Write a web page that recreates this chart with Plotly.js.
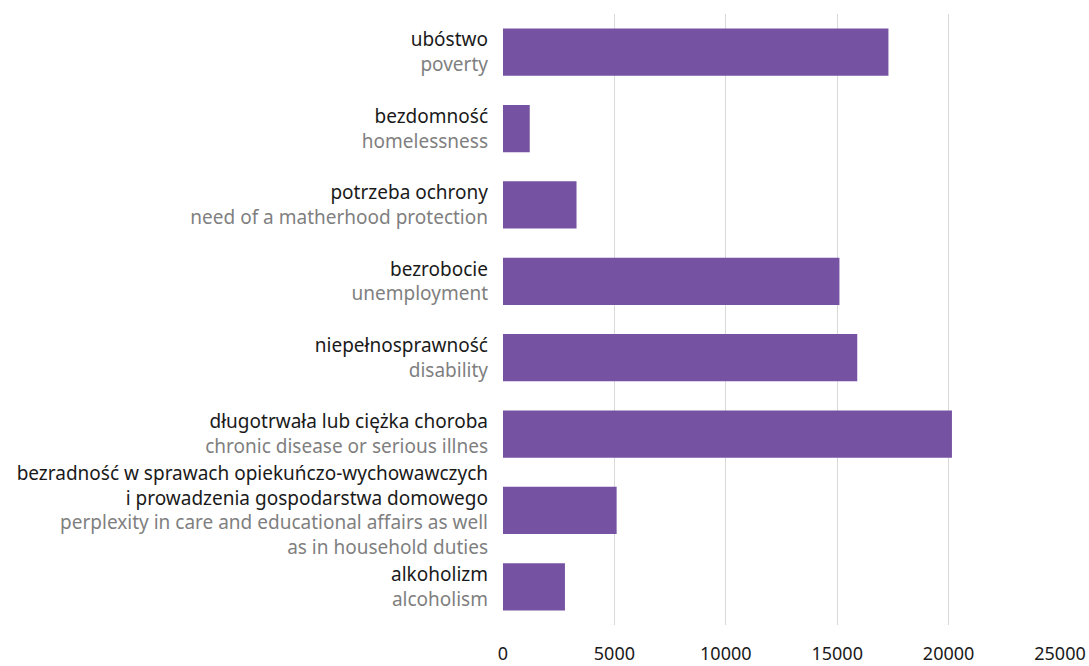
<!DOCTYPE html>
<html><head><meta charset="utf-8">
<script src="https://cdn.plot.ly/plotly-3.0.1.min.js"></script>
<style>html,body{margin:0;padding:0;background:#fff}</style>
</head><body>
<div id="chart" style="width:1089px;height:666px"></div>
<script>
const categoriesPl = ["ubóstwo","bezdomność","potrzeba ochrony","bezrobocie","niepełnosprawność","długotrwała lub ciężka choroba","bezradność w sprawach opiekuńczo-wychowawczych<br>i prowadzenia gospodarstwa domowego","alkoholizm"];
const categoriesEn = ["poverty","homelessness","need of a matherhood protection","unemployment","disability","chronic disease or serious illnes","perplexity in care and educational affairs as well<br>as in household duties","alcoholism"];
const values = [17300, 1200, 3300, 15100, 15900, 20150, 5100, 2780];
const xTicks = [0, 5000, 10000, 15000, 20000, 25000];

const grey = "#7f7f7f";
const ids = categoriesPl.map((c, i) => "c" + i);
const tickText = categoriesPl.map((pl, i) => {
  const en = categoriesEn[i].split("<br>").map(s => `<span style="color:${grey}">${s}</span>`).join("<br>");
  return `${pl}<br>${en}`;
});

Plotly.newPlot("chart", [{
  type: "bar", orientation: "h", x: values, y: ids,
  marker: {color: "#7552a2"}, width: 0.62, hoverinfo: "x"
}], {
  width: 1089, height: 666,
  margin: {l: 503, r: 29, t: 14, b: 41},
  paper_bgcolor: "#fff", plot_bgcolor: "#fff",
  font: {family: "Noto Sans, sans-serif", size: 19, color: "#1a1a1a"},
  showlegend: false,
  xaxis: {range: [0, 25000], tickvals: xTicks, ticktext: xTicks.map(String),
    showgrid: true, gridcolor: "#d9d9d9", gridwidth: 1, zeroline: false,
    showline: false, ticks: "", ticklabelstandoff: 16, tickfont: {size: 18, color: "#1a1a1a"}},
  yaxis: {type: "category", autorange: "reversed", tickvals: ids, ticktext: tickText,
    showgrid: false, zeroline: false, showline: false, ticks: "", ticklabelstandoff: 14,
    tickfont: {size: 19, color: "#1a1a1a"}}
}, {displayModeBar: false, staticPlot: true});
</script>
</body></html>
